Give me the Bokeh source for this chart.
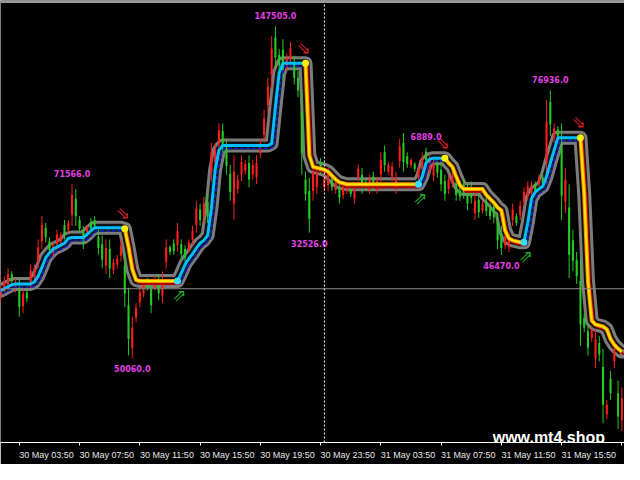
from bokeh.plotting import figure
from bokeh.models import Range1d, FixedTicker, Span, Label, ColumnDataSource
from bokeh.core.properties import value
from bokeh.embed import file_html
from bokeh.resources import INLINE

# ---- data (M15 bars; price units arbitrary) ----
highs = [187,195,203,200,192,193,183,182,207,207,
         233,257,250,235,230,243,240,253,253,290,
         285,257,247,248,255,257,243,237,233,233,
         213,217,233,220,183,153,167,183,190,193,
         190,195,197,200,233,227,233,250,233,227,
         233,247,273,270,277,280,333,333,353,353,
         337,310,320,300,320,315,320,315,320,337,
         367,400,443,453,430,440,425,437,423,407,
         387,303,297,313,310,317,300,307,300,295,
         293,292,290,287,290,310,307,295,300,303,
         297,323,330,313,313,303,337,343,323,317,
         313,310,323,328,320,317,317,313,300,300,
         303,297,287,295,290,293,280,280,273,277,
         270,273,260,247,240,240,270,260,273,287,
         293,293,293,300,300,377,387,353,350,353,
         307,290,243,220,213,157,147,143,140,133,
         120,67,97,127,87,80]
lows = [167,175,180,187,178,153,157,168,183,190,
        203,223,230,218,215,223,228,233,240,247,
        247,240,223,238,240,243,217,203,197,193,
        197,203,210,163,113,110,147,163,173,180,
        157,180,170,167,203,217,217,220,213,210,
        220,227,240,247,250,250,293,307,327,323,
        300,273,253,280,293,300,287,295,290,317,
        333,363,390,410,407,397,407,413,393,380,
        300,273,240,273,280,300,283,283,283,280,
        270,275,280,277,270,293,280,283,280,283,
        280,293,303,300,293,280,307,303,307,307,
        303,293,300,310,300,293,297,283,273,280,
        287,273,273,275,263,270,253,255,260,257,
        253,250,223,217,223,220,247,247,253,267,
        273,277,280,287,287,290,340,333,337,253,
        260,193,200,187,123,137,113,127,100,107,
        43,47,67,100,37,35]
opens = [182,190,197,190,188,163,177,172,201,203,
         225,248,235,222,226,238,237,238,250,279,
         257,244,229,245,244,247,224,212,224,203,
         209,213,227,177,130,142,162,178,186,183,
         165,191,177,192,225,220,221,242,218,214,
         230,242,265,253,270,257,323,326,346,330,
         309,282,303,295,313,311,295,310,312,332,
         358,391,430,421,413,408,420,431,400,387,
         322,280,254,303,302,304,296,301,287,291,
         276,288,288,280,285,306,287,286,295,288,
         293,315,310,310,308,297,329,313,311,315,
         306,306,317,315,315,311,302,290,280,295,
         299,279,277,280,270,276,273,261,270,262,
         257,256,232,224,236,235,264,250,268,282,
         288,289,283,297,290,355,352,348,340,278,
         295,217,211,195,145,142,121,139,130,114,
         62,62,74,120,50,69]
closes = [172,180,186,197,182,183,164,178,189,194,
          210,231,245,231,219,228,231,248,243,258,
          275,253,241,240,251,253,236,228,206,223,
          201,207,216,206,165,121,152,168,177,190,
          182,184,190,175,210,225,229,227,228,223,
          223,232,248,264,257,272,303,313,333,345,
          328,301,270,285,300,304,312,300,297,322,
          341,372,403,442,424,429,411,419,415,400,
          365,295,283,283,287,313,287,289,296,284,
          287,279,283,285,275,297,300,292,285,298,
          284,300,323,303,298,286,314,333,319,310,
          311,297,306,324,305,299,312,305,293,285,
          291,291,283,290,283,287,260,274,263,272,
          266,267,251,239,227,225,253,257,258,272,
          278,281,290,290,297,312,375,338,347,328,
          272,266,232,212,190,152,138,131,110,126,
          101,52,89,107,74,46]
trend = [180,182,184,186,187,187,187,187,187,189,
         195,204,214,219,223,225,227,229,234,235,
         235,235,235,238,242,245,245,245,245,245,
         245,245,245,244,225,202,191,190,190,190,
         190,190,190,190,190,190,190,190,198,207,
         213,218,224,229,232,237,265,305,325,330,
         330,330,330,330,330,330,330,330,330,330,
         330,330,332,370,405,415,415,415,415,415,
         415,415,320,308,307,306,305,303,299,295,
         292,291,290,290,290,290,290,290,290,290,
         290,290,290,290,290,290,290,290,290,290,
         290,290,298,312,316,317,317,317,317,312,
         308,298,289,285,285,285,285,285,285,279,
         275,271,266,263,242,234,232,231,230,230,
         250,275,282,285,288,298,312,325,338,338,
         338,338,338,338,338,280,190,149,145,144,
         143,140,130,124,120,117]
up_start_bars = [47, 111, 139]
down_start_bars = [33, 81, 118, 154]
label_bars = [19, 35, 73, 82, 113, 133, 146]
label_texts = ["71566.0", "50060.0", "147505.0", "32526.0", "6889.0", "46470.0", "76936.0"]
label_side = ["high", "low", "high", "low", "high", "low", "high"]
tick_bars = [5, 21, 37, 53, 69, 85, 101, 117, 133, 149, 165]
tick_labels = ["30 May 03:50", "30 May 07:50", "30 May 11:50", "30 May 15:50",
               "30 May 19:50", "30 May 23:50", "31 May 03:50", "31 May 07:50",
               "31 May 11:50", "31 May 15:50", "31 May 19:50"]
bid_level = 182
day_break_bar = 86

n = len(highs)
xs = list(range(n))

p = figure(width=624, height=464, x_range=Range1d(0, 165.7), y_range=Range1d(23, 480),
           output_backend="svg", toolbar_location=None, y_axis_location=None,
           background_fill_color="black", border_fill_color="black",
           min_border=0, min_border_bottom=22)
p.grid.visible = False
p.outline_line_color = None

p.add_layout(Span(location=bid_level, dimension="width", line_color="#8a8a8a", line_width=1))
p.add_layout(Span(location=day_break_bar, dimension="height", line_color="white",
                  line_width=1, line_dash="2 2"))
p.add_layout(Span(location=479, dimension="width", line_color="#9a9a9a", line_width=3))

# gray glow band
p.line(xs, trend, line_color="#7c7c7c", line_width=14, line_join="round", line_cap="round")
p.line(xs, trend, line_color="#000000", line_width=8, line_join="round", line_alpha=0.85)

# candles
colors = ["#22cc22" if c >= o else "#ff1c1c" for o, c in zip(opens, closes)]
src = ColumnDataSource(dict(x=xs, high=highs, low=lows,
                            top=[max(o, c) for o, c in zip(opens, closes)],
                            bottom=[min(o, c) for o, c in zip(opens, closes)],
                            color=colors))
p.segment(x0="x", y0="low", x1="x", y1="high", line_color="color", line_width=1, source=src)
p.vbar(x="x", width=0.55, top="top", bottom="bottom", fill_color="color", line_color=None, source=src)

# trend segments
changes = sorted([(b, "up") for b in up_start_bars] + [(b, "down") for b in down_start_bars])
segs = []
start, d = 0, "up"
for b, nd in changes:
    segs.append((start, b, d))
    start, d = b, nd
segs.append((start, n - 1, d))
for s, e, d in segs:
    sx = xs[s:e + 1]
    sy = trend[s:e + 1]
    if d == "up":
        p.line([v + 0.6 for v in sx], [v - 3 for v in sy], line_color="#1020b0", line_width=2,
               line_join="round", line_dash="4 2")
        p.line(sx, sy, line_color="#00bfff", line_width=3, line_join="round")
    else:
        p.line([v + 0.6 for v in sx], [v - 3 for v in sy], line_color="#b00000", line_width=2,
               line_join="round")
        p.line(sx, sy, line_color="#ff8c00", line_width=4, line_join="round")
        p.line(sx, sy, line_color="#ffe600", line_width=2, line_join="round")

p.scatter([xs[b] for b in down_start_bars], [trend[b] for b in down_start_bars],
          size=7, fill_color="#ffee00", line_color=None)
p.scatter([xs[b] for b in up_start_bars], [trend[b] for b in up_start_bars],
          size=7, fill_color="#33ddff", line_color=None)

# arrows
p.text([xs[b] - 0.5 for b in down_start_bars], [trend[b] + 16 for b in down_start_bars],
       text=["\u21d8"] * len(down_start_bars), text_color="#cc2222",
       text_font=value("DejaVu Sans"), text_font_size="17px",
       text_align="center", text_baseline="middle")
p.text([xs[b] + 0.5 for b in up_start_bars], [trend[b] - 14 for b in up_start_bars],
       text=["\u21d7"] * len(up_start_bars), text_color="#22aa22",
       text_font=value("DejaVu Sans"), text_font_size="17px",
       text_align="center", text_baseline="middle")

# magenta value labels
lx = [xs[b] for b in label_bars]
ly = [highs[b] + 11 if sd == "high" else lows[b] - 11 for b, sd in zip(label_bars, label_side)]
p.text(lx, ly, text=label_texts, text_color="#e040e0", text_font=value("DejaVu Sans"),
       text_font_style="bold", text_font_size="8px", text_align="center", text_baseline="middle")

# axis: tick marks as minor ticks at the bar times, labels (left-aligned look) as major ticks
label_shift = 7.2
label_pos = [b + label_shift for b in tick_bars]
ax = p.xaxis[0]
ax.ticker = FixedTicker(ticks=label_pos, minor_ticks=tick_bars)
ax.major_label_overrides = {pos: t for pos, t in zip(label_pos, tick_labels)}
ax.axis_line_color = "white"
ax.major_tick_line_color = None
ax.major_tick_in = 0
ax.major_tick_out = 0
ax.minor_tick_line_color = "white"
ax.minor_tick_in = 0
ax.minor_tick_out = 3
ax.major_label_text_color = "#e6e6e6"
ax.major_label_text_font = "Liberation Sans"
ax.major_label_text_font_size = "9px"
ax.major_label_standoff = 4

p.add_layout(Label(x=130.7, y=28, text="www.mt4.shop", text_color="white",
                   text_font="Liberation Sans", text_font_style="bold", text_font_size="16px",
                   text_align="left", text_baseline="alphabetic"))

open("out.html", "w").write(file_html(p, INLINE))
